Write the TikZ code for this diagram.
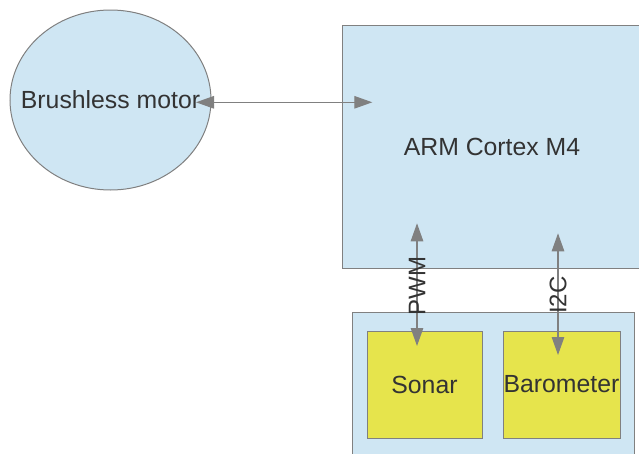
\documentclass[tikz,border=0pt]{standalone}
\usepackage{fontspec}
\setmainfont{Liberation Sans}
\usepackage{xcolor}
\usetikzlibrary{arrows.meta, positioning, shapes.geometric}

\definecolor{boxblue}{RGB}{207,230,243}
\definecolor{boxyellow}{RGB}{230,228,76}
\definecolor{edgegray}{RGB}{128,128,128}
\definecolor{textgray}{RGB}{51,51,51}

\begin{document}
\begin{tikzpicture}[x=1pt, y=-1pt,
    block/.style={rectangle, draw=edgegray, line width=1pt, fill=boxblue, inner sep=0pt,
      text=textgray, font=\fontsize{24.8}{29}\selectfont},
    sensor/.style={block, fill=boxyellow},
    link/.style={draw=edgegray, line width=1.2pt,
      {Triangle[length=18pt,width=12.5pt]}-{Triangle[length=18pt,width=12.5pt]}},
    busname/.style={rotate=90, inner sep=0pt, text=textgray, font=\fontsize{24}{29}\selectfont}]
          \useasboundingbox (0,0) rectangle (639,453);
          \clip (0,0) rectangle (639,453);

          \node[block, ellipse, minimum width=201pt, minimum height=180pt] (motor) at (110.5,100) {\makebox[0pt]{Brushless motor}};
          \node[block, minimum width=300pt, minimum height=243pt] (arm) at (492,146.5) {ARM Cortex M4};
          \node[block, minimum width=282pt, minimum height=160pt] (sensors) at (493,392) {};
          \node[sensor, minimum width=115pt, minimum height=107pt] (sonar) at (424.5,384.5) {Sonar};
          \node[sensor, minimum width=117pt, minimum height=107pt] (baro) at (561.5,384.5) {Barometer};

          \coordinate (motorport) at (196,102.3);
          \coordinate (armport) at (372.3,102.3);
          \coordinate (pwmtop) at (417,223.3);
          \coordinate (pwmend) at (417,346);
          \coordinate (i2ctop) at (558,233.3);
          \coordinate (i2cend) at (558,355);

          \draw[link] (motorport) -- (armport);
          \draw[link] (pwmtop) -- (pwmend) node[busname, midway, xshift=-1.5pt] (pwm) {PWM};
          \draw[link] (i2ctop) -- (i2cend) node[busname, midway, xshift=-1pt] (i2c) {I2C};
        \end{tikzpicture}
\end{document}
